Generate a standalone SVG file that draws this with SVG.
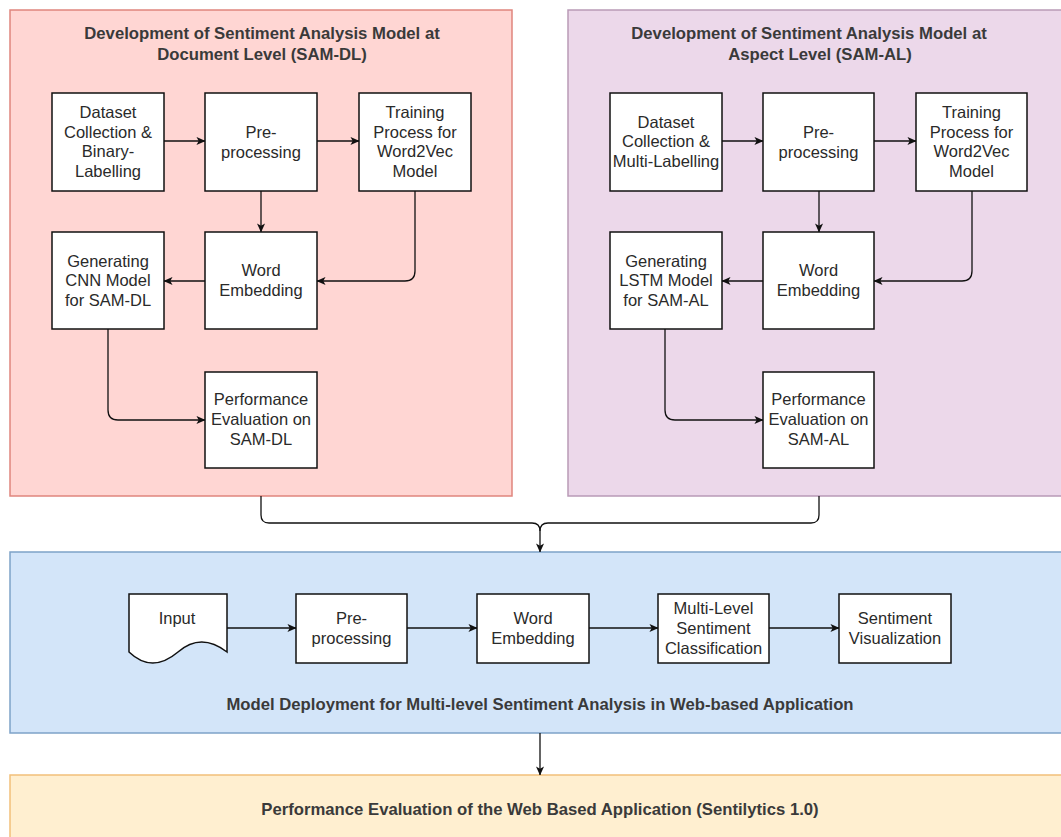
<svg xmlns="http://www.w3.org/2000/svg" width="1061" height="837" viewBox="0 0 1061 837">
<style>
text{font-family:"Liberation Sans",Arial,sans-serif;font-size:16.5px;fill:#2a2a2a;text-anchor:middle}
.t{font-weight:bold;font-size:16.7px;fill:#3a3a3a}
.box{fill:#fff;stroke:#111;stroke-width:1.5}
.c{fill:none;stroke:#111;stroke-width:1.3}
</style>
<defs>
<marker id="ah" viewBox="0 0 10 10" refX="9.5" refY="5" markerWidth="9" markerHeight="9" orient="auto" markerUnits="userSpaceOnUse">
<path d="M0,0.5 L10,5 L0,9.5 L2.5,5 z" fill="#111"/>
</marker>
</defs>
<rect width="1061" height="837" fill="#fff"/>

<g id="sam-dl">
<rect x="10" y="10" width="502" height="486" fill="#ffd6d3" stroke="#e0857d" stroke-width="1.5"/>
<text class="t" x="262" y="39">Development of Sentiment Analysis Model at</text>
<text class="t" x="262" y="60">Document Level (SAM-DL)</text>
</g>
<g id="sam-al">
<rect x="568" y="10" width="500" height="486" fill="#ecd8ea" stroke="#b99ab7" stroke-width="1.5"/>
<text class="t" x="809" y="39">Development of Sentiment Analysis Model at</text>
<text class="t" x="820" y="60">Aspect Level (SAM-AL)</text>
</g>
<g id="deploy">
<rect x="10" y="552" width="1060" height="181" fill="#d3e5f9" stroke="#7ea2c8" stroke-width="1.5"/>
<text class="t" x="540" y="710">Model Deployment for Multi-level Sentiment Analysis in Web-based Application</text>
</g>
<g id="webeval">
<rect x="10" y="775" width="1060" height="70" fill="#ffefd0" stroke="#f2c07a" stroke-width="1.5"/>
<text class="t" x="540" y="815">Performance Evaluation of the Web Based Application (Sentilytics 1.0)</text>
</g>

<g id="dl-dataset"><rect class="box" x="52" y="93" width="112" height="98"/>
<text x="108" y="118">Dataset</text><text x="108" y="138">Collection &amp;</text><text x="108" y="157">Binary-</text><text x="108" y="177">Labelling</text></g>
<g id="dl-pre"><rect class="box" x="205" y="93" width="112" height="98"/>
<text x="261" y="138">Pre-</text><text x="261" y="158">processing</text></g>
<g id="dl-train"><rect class="box" x="359" y="93" width="112" height="98"/>
<text x="415" y="118">Training</text><text x="415" y="138">Process for</text><text x="415" y="157">Word2Vec</text><text x="415" y="177">Model</text></g>
<g id="dl-gen"><rect class="box" x="52" y="232" width="112" height="97"/>
<text x="108" y="267">Generating</text><text x="108" y="286">CNN Model</text><text x="108" y="306">for SAM-DL</text></g>
<g id="dl-we"><rect class="box" x="205" y="232" width="112" height="97"/>
<text x="261" y="276">Word</text><text x="261" y="296">Embedding</text></g>
<g id="dl-perf"><rect class="box" x="205" y="372" width="112" height="96"/>
<text x="261" y="405">Performance</text><text x="261" y="425">Evaluation on</text><text x="261" y="445">SAM-DL</text></g>

<g id="al-dataset"><rect class="box" x="610" y="93" width="112" height="98"/>
<text x="666" y="128">Dataset</text><text x="666" y="147">Collection &amp;</text><text x="666" y="167">Multi-Labelling</text></g>
<g id="al-pre"><rect class="box" x="763" y="93" width="111" height="98"/>
<text x="818.5" y="138">Pre-</text><text x="818.5" y="158">processing</text></g>
<g id="al-train"><rect class="box" x="916" y="93" width="111" height="98"/>
<text x="971.5" y="118">Training</text><text x="971.5" y="138">Process for</text><text x="971.5" y="157">Word2Vec</text><text x="971.5" y="177">Model</text></g>
<g id="al-gen"><rect class="box" x="610" y="232" width="112" height="97"/>
<text x="666" y="267">Generating</text><text x="666" y="286">LSTM Model</text><text x="666" y="306">for SAM-AL</text></g>
<g id="al-we"><rect class="box" x="763" y="232" width="111" height="97"/>
<text x="818.5" y="276">Word</text><text x="818.5" y="296">Embedding</text></g>
<g id="al-perf"><rect class="box" x="763" y="372" width="111" height="96"/>
<text x="818.5" y="405">Performance</text><text x="818.5" y="425">Evaluation on</text><text x="818.5" y="445">SAM-AL</text></g>

<g id="d-input"><path class="box" d="M129,594 H227 V652 Q201,632 178,652 Q152,674 129,652 Z"/>
<text x="177" y="624">Input</text></g>
<g id="d-pre"><rect class="box" x="296" y="594" width="111" height="69"/>
<text x="351.5" y="624">Pre-</text><text x="351.5" y="644">processing</text></g>
<g id="d-we"><rect class="box" x="477" y="594" width="112" height="69"/>
<text x="533" y="624">Word</text><text x="533" y="644">Embedding</text></g>
<g id="d-ml"><rect class="box" x="658" y="594" width="111" height="69"/>
<text x="713.5" y="614">Multi-Level</text><text x="713.5" y="634">Sentiment</text><text x="713.5" y="654">Classification</text></g>
<g id="d-sv"><rect class="box" x="839" y="594" width="112" height="69"/>
<text x="895" y="624">Sentiment</text><text x="895" y="644">Visualization</text></g>

<g id="connectors">
<path class="c" d="M164,141 H205" marker-end="url(#ah)"/>
<path class="c" d="M317,141 H359" marker-end="url(#ah)"/>
<path class="c" d="M261,191 V232" marker-end="url(#ah)"/>
<path class="c" d="M415,191 V271 Q415,281 405,281 H317" marker-end="url(#ah)"/>
<path class="c" d="M205,281 H164" marker-end="url(#ah)"/>
<path class="c" d="M108,329 V410 Q108,420 118,420 H205" marker-end="url(#ah)"/>

<path class="c" d="M722,141 H763" marker-end="url(#ah)"/>
<path class="c" d="M874,141 H916" marker-end="url(#ah)"/>
<path class="c" d="M819,191 V232" marker-end="url(#ah)"/>
<path class="c" d="M972,191 V271 Q972,281 962,281 H874" marker-end="url(#ah)"/>
<path class="c" d="M763,281 H722" marker-end="url(#ah)"/>
<path class="c" d="M665,329 V410 Q665,420 675,420 H763" marker-end="url(#ah)"/>

<path class="c" d="M261,496 V515 Q261,523 269,523 H532 Q540,523 540,531 V552" marker-end="url(#ah)"/>
<path class="c" d="M819,496 V515 Q819,523 811,523 H548 Q540,523 540,531"/>
<path class="c" d="M540,733 V775" marker-end="url(#ah)"/>

<path class="c" d="M227,628 H296" marker-end="url(#ah)"/>
<path class="c" d="M407,628 H477" marker-end="url(#ah)"/>
<path class="c" d="M589,628 H658" marker-end="url(#ah)"/>
<path class="c" d="M769,628 H839" marker-end="url(#ah)"/>
</g>
</svg>
